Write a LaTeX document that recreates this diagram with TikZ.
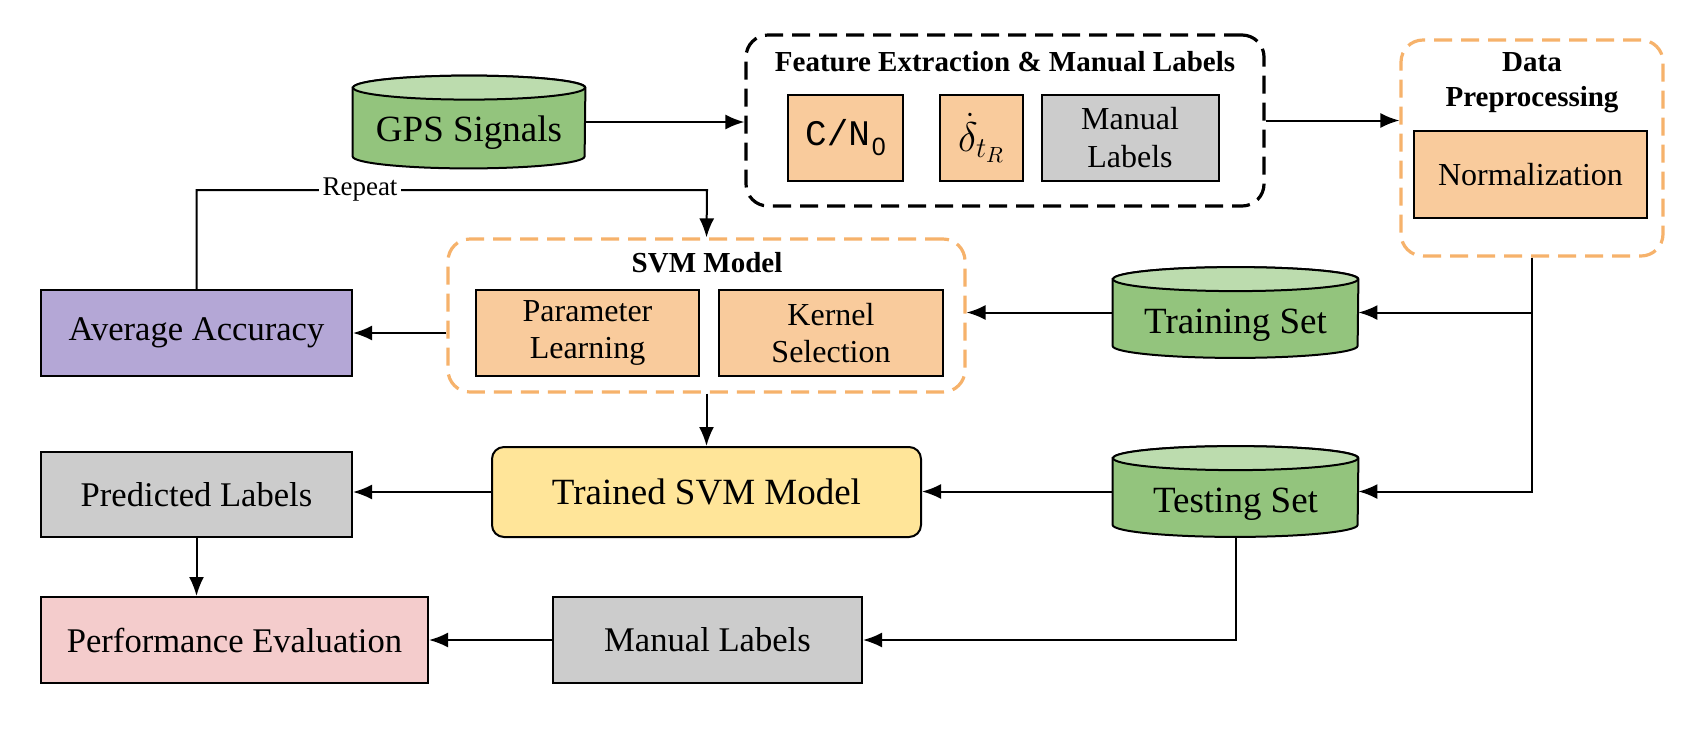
\documentclass[tikz,border=0pt]{standalone}
\usepackage{fontspec}
\setmainfont{Liberation Serif}
\setmonofont{Liberation Mono}
\setsansfont{Liberation Sans}
\usetikzlibrary{arrows.meta,backgrounds}
\definecolor{cylgreen}{HTML}{93C47D}
\definecolor{cyltop}{HTML}{BCDCAE}
\definecolor{orfill}{HTML}{F9CB9C}
\definecolor{ordash}{HTML}{F6B26B}
\definecolor{grayfill}{HTML}{CCCCCC}
\definecolor{purp}{HTML}{B4A7D6}
\definecolor{yell}{HTML}{FFE599}
\definecolor{pinkf}{HTML}{F4CCCC}
\newcommand{\cylbg}[2]{%
  \filldraw[fill=cylgreen, line width=1pt] ([yshift=-6pt]#1.north west) -- ([yshift=6pt]#1.south west)
    arc[start angle=180, end angle=360, x radius=#2, y radius=6pt] -- ([yshift=-6pt]#1.north east)
    arc[start angle=0, end angle=180, x radius=#2, y radius=6pt] -- cycle;
  \filldraw[fill=cyltop, line width=1pt] ([yshift=-6pt]#1.north) ellipse[x radius=#2, y radius=6pt];
}
\tikzset{
  plainbox/.style={draw=black, line width=1pt, inner sep=0pt, align=center, font=\fontsize{17.3}{20}\selectfont},
  smallbox/.style={plainbox, fill=orfill, font=\fontsize{16}{18.5}\selectfont},
  groupbox/.style={draw, rounded corners=11pt, line width=1.6pt, dash pattern=on 9pt off 4.5pt, inner sep=0pt},
  grouptitle/.style={font=\bfseries\fontsize{14.5}{17.5}\selectfont, align=center, inner sep=0pt},
  cylnode/.style={inner sep=0pt, minimum width=122.5pt, minimum height=45pt},
  cyltext/.style={inner sep=0pt, font=\fontsize{18.5}{21}\selectfont},
  conn/.style={line width=1pt, -{Latex[length=9.5pt,width=7.5pt]}},
  plainline/.style={line width=1pt}
}
\begin{document}
\begin{tikzpicture}[x=0.5pt,y=-0.5pt]
\useasboundingbox (0,0) rectangle (1695,730);

% cylinders
\node[cylnode, minimum width=116pt, minimum height=46pt] (gps) at (469,122) {};
\node[cyltext] (gpst) at ([yshift=-5.5pt]gps.center) {GPS Signals};
\node[cylnode] (train) at (1235.5,312.5) {};
\node[cyltext] (traint) at ([yshift=-6.5pt]train.center) {Training Set};
\node[cylnode] (test) at (1235.5,491.5) {};
\node[cyltext] (testt) at ([yshift=-6.5pt]test.center) {Testing Set};
\begin{scope}[on background layer]
  \fill[white] (0,0) rectangle (1695,730);
  \cylbg{gps}{58pt}
  \cylbg{train}{61.25pt}
  \cylbg{test}{61.25pt}
\end{scope}

% feature extraction group
\node[groupbox, minimum width=259pt, minimum height=85.5pt] (fe) at (1005,120.5) {};
\node[grouptitle] (fet) at (1005,62) {Feature Extraction \& Manual Labels};
\node[smallbox, minimum width=57.5pt, minimum height=43pt] (cn) at (845.5,138)
  {\fontsize{18}{20}\ttfamily C/N\kern1pt\raisebox{-5pt}{\sffamily\fontsize{12.5}{12}\selectfont 0}};
\node[smallbox, minimum width=41.5pt, minimum height=43pt] (dt) at (981.5,138)
  {\fontsize{21}{24}\selectfont$\dot{\delta}_{t_R}$};
\node[smallbox, fill=grayfill, minimum width=88.5pt, minimum height=43pt, font=\fontsize{16}{19}\selectfont] (mlin) at (1130,138) {Manual\\Labels};

% data preprocessing group
\node[groupbox, draw=ordash, minimum width=131pt, minimum height=108pt] (data) at (1532,148) {};
\node[grouptitle] (datat) at (1532,83) {Data\\Preprocessing};
\node[smallbox, minimum width=116.5pt, minimum height=43.5pt] (norm) at (1530.5,174.5) {Normalization};

% SVM model group
\node[groupbox, draw=ordash, minimum width=258.5pt, minimum height=76.5pt] (svm) at (706.5,315.5) {};
\node[grouptitle] (svmt) at (707,263) {SVM Model};
\node[smallbox, minimum width=111.5pt, minimum height=43pt] (param) at (587.5,333) {Parameter\\Learning};
\node[smallbox, minimum width=112pt, minimum height=43pt] (kern) at (831,333) {Kernel\\Selection};

% other boxes
\node[plainbox, fill=purp, minimum width=155.5pt, minimum height=43pt] (avg) at (196.5,333) {Average Accuracy};
\node[plainbox, fill=yell, rounded corners=6pt, minimum width=214.5pt, minimum height=45pt, font=\fontsize{18.5}{21}\selectfont] (trained) at (706.5,492) {Trained SVM Model};
\node[plainbox, fill=grayfill, minimum width=155.5pt, minimum height=42.5pt] (pred) at (196.5,494.5) {Predicted Labels};
\node[plainbox, fill=pinkf, minimum width=193.5pt, minimum height=43pt] (perf) at (234.5,640) {Performance Evaluation};
\node[plainbox, fill=grayfill, minimum width=154.5pt, minimum height=43pt] (ml) at (707.5,640) {Manual Labels};

% connectors
\draw[conn] (gps.east) -- (gps.east -| fe.west);
\draw[conn] (fe.east) -- (fe.east -| data.west);
\draw[conn] (data.south) |- (train.east);
\draw[conn] (data.south) |- (test.east);
\draw[conn] (train.west) -- (train.west -| svm.east);
\draw[conn] (avg.east -| svm.west) -- (avg.east);
\coordinate (rr) at (707,190);
\draw[conn] (avg.north) |- (rr) -- (svm.north);
\node[fill=white, inner sep=2pt, font=\fontsize{13.5}{16}\selectfont] (rep) at (360,190) {Repeat};
\draw[conn] (svm.south) -- (trained.north);
\draw[conn] (test.west) -- (test.west -| trained.east);
\draw[conn] (trained.west) -- (trained.west -| pred.east);
\draw[conn] (pred.south) -- (pred.south |- perf.north);
\draw[conn] (test.south) |- (ml.east);
\draw[conn] (ml.west) -- (ml.west -| perf.east);
\end{tikzpicture}
\end{document}
